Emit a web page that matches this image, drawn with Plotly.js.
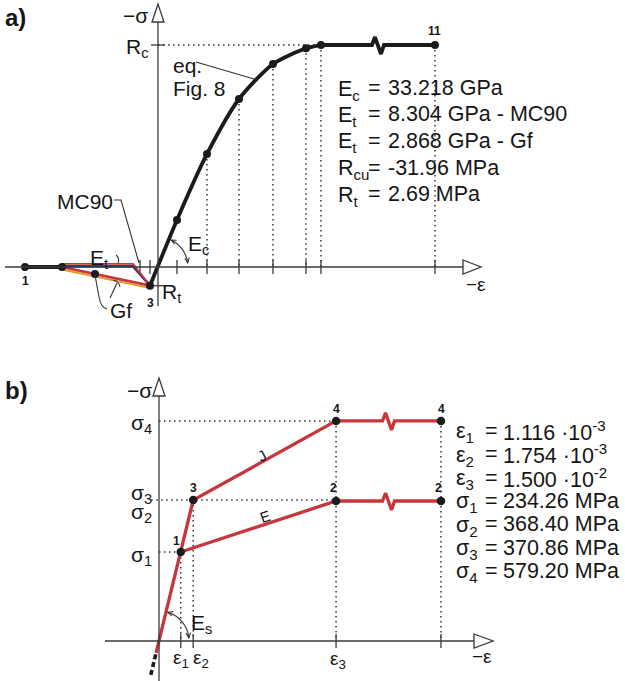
<!DOCTYPE html>
<html><head><meta charset="utf-8">
<script src="https://cdn.plot.ly/plotly-3.0.1.min.js"></script>
<style>html,body{margin:0;padding:0;background:#fff}#chart{width:625px;height:681px}</style>
</head><body><div id="chart"></div>
<script>
// ================= DATA =================
// Panel a) concrete: x = -strain (per mille, schematic), y = -stress (MPa)
const tensX      = [-1.773, -1.28];              // points 1, 2 (on the axis)
const tensY      = [0, 0];
const mc90X      = [-1.28, -0.333, -0.107];      // MC90 softening branch
const mc90RedY   = [0.45, 0.45, -2.69];
const mc90BlueY  = [0.1, 0.1, -2.69];
const gfX        = [-1.28, -0.84, -0.107];       // Gf softening branch
const gfY        = [0, -1.0, -2.69];
const compX      = [-0.107, 0.253, 0.653, 1.08, 1.533, 1.973, 2.173]; // point 3 ... peak
const compY      = [-2.69, 6.77, 16.27, 24.19, 29.23, 31.5, 31.96];
const plateauX   = [2.173, 3.693];               // peak -> point 11
const plateauY   = [31.96, 31.96];
const ticksA     = [-0.24, -0.107, 0.253, 0.653, 1.08, 1.533, 1.973, 2.173, 3.693];
const Rc = 31.96, Rt = -2.69;
const listA_sym  = ['E<sub>c</sub>', 'E<sub>t</sub>', 'E<sub>t</sub>', 'R<sub>cu</sub>', 'R<sub>t</sub>'];
const listA_val  = ['33.218 GPa', '8.304 GPa - MC90', '2.868 GPa - Gf', '-31.96 MPa', '2.69 MPa'];

// Panel b) steel: x = -strain (per mille; eps3 and end drawn at shortened schematic positions), y = -stress (MPa)
const epsPos     = [1.116, 1.754, 9.08, 14.46];  // eps1, eps2, eps3 (schematic), end (schematic)
const sigma      = [234.26, 368.40, 370.86, 579.20];
const curveJX    = [-0.15, 0, 1.116, 1.754, 9.08, 14.46];
const curveJY    = [-31.5, 0, 234.26, 370.86, 579.20, 579.20];
const curveEX    = [1.116, 9.08, 14.46];
const curveEY    = [234.26, 368.40, 368.40];
const extX       = [-0.42, -0.15];               // dashed continuation below origin
const extY       = [-89, -31.5];
const listB_sym  = ['ε<sub>1</sub>', 'ε<sub>2</sub>', 'ε<sub>3</sub>', 'σ<sub>1</sub>', 'σ<sub>2</sub>', 'σ<sub>3</sub>', 'σ<sub>4</sub>'];
const listB_val  = ['1.116 ·10<sup>-3</sup>', '1.754 ·10<sup>-3</sup>', '1.500 ·10<sup>-2</sup>',
                    '234.26 MPa', '368.40 MPa', '370.86 MPa', '579.20 MPa'];

// ================= LAYOUT GEOMETRY =================
const W = 625, H = 681;
const PA = {x0:158, y0:267, sx:75,   sy:6.946, top:0,   bot:330};
const PB = {x0:159, y0:641, sx:19.5, sy:0.38,  top:340, bot:681};
const BLK = '#1b1b1b', RED = '#c7353d', BLUE = '#2b3a8c', ORG = '#e39a2a', AX = '#3a3a3a';
const FONT = 'Liberation Sans, Arial, sans-serif';

function withBreak(xs, ys, P) {
  // insert a zig-zag "break" symbol in the middle of the last segment
  const n = xs.length, x1 = xs[n-2], x2 = xs[n-1], y = ys[n-1];
  const bx = (x1 + x2) / 2;
  const off = [[-6,0],[-3,8],[3,-9],[6,0]];
  const X = xs.slice(0, n-1), Y = ys.slice(0, n-1);
  off.forEach(o => { X.push(bx + o[0]/P.sx); Y.push(y + o[1]/P.sy); });
  X.push(x2); Y.push(y);
  return [X, Y];
}
function dots(segs) { const x=[], y=[]; segs.forEach(s=>{x.push(s[0],s[2],null); y.push(s[1],s[3],null);}); return {x,y}; }

const traces = [];
const lineT = (x,y,color,width,ax,extra={}) => Object.assign({type:'scatter',mode:'lines',x,y,xaxis:ax[0],yaxis:ax[1],
  line:Object.assign({color,width},extra.line||{}),hoverinfo:'skip'}, extra.top||{});
const A = ['x','y'], B = ['x2','y2'];

// ---- panel a dotted guides
const dA = dots([
  ...compX.slice(2).map((x,i)=>[x, compY[i+2], x, 0]),
  [plateauX[1], plateauY[1], plateauX[1], 0],
  [0, Rc, compX[compX.length-1], Rc]
]);
traces.push(lineT(dA.x, dA.y, '#333', 1.5, A, {line:{dash:'1.5px,3.5px'}}));
traces.push({type:'scatter',mode:'markers',x:ticksA,y:ticksA.map(()=>0),xaxis:'x',yaxis:'y',hoverinfo:'skip',
  marker:{symbol:'line-ns',size:10,line:{color:AX,width:1.3}}});
traces.push({type:'scatter',mode:'markers',x:[0,0],y:[Rc,Rt],xaxis:'x',yaxis:'y',hoverinfo:'skip',
  marker:{symbol:'line-ew',size:10,line:{color:AX,width:1.3}}});
// curves panel a
traces.push(lineT(gfX, gfY.map(v=>v-0.35), ORG, 2, A));
traces.push(lineT(gfX, gfY, RED, 2.8, A));
traces.push(lineT(mc90X, mc90BlueY, BLUE, 2.5, A));
traces.push(lineT(mc90X, mc90RedY, RED, 1.9, A));
traces.push(lineT(tensX, tensY, BLK, 4.2, A));
traces.push(lineT(compX, compY, BLK, 3.8, A, {line:{shape:'spline',smoothing:0.7}}));
const [pax, pay] = withBreak(plateauX, plateauY, PA);
traces.push(lineT(pax, pay, BLK, 3.8, A));
traces.push({type:'scatter',mode:'markers',xaxis:'x',yaxis:'y',hoverinfo:'skip',
  x:[...tensX, gfX[1], ...compX, plateauX[1]], y:[...tensY, gfY[1], ...compY, plateauY[1]],
  marker:{color:BLK,size:8}});

// ---- panel b dotted guides
const dB = dots([
  [epsPos[0], sigma[0], epsPos[0], 0],
  [epsPos[1], sigma[2], epsPos[1], 0],
  [epsPos[2], sigma[3], epsPos[2], 0],
  [epsPos[3], sigma[3], epsPos[3], 0],
  [0, sigma[0], epsPos[0], sigma[0]],
  [-0.4, sigma[2], epsPos[2], sigma[2]],
  [0, sigma[3], epsPos[2], sigma[3]]
]);
traces.push(lineT(dB.x, dB.y, '#333', 1.5, B, {line:{dash:'1.5px,3.5px'}}));
traces.push({type:'scatter',mode:'markers',x:epsPos,y:epsPos.map(()=>0),xaxis:'x2',yaxis:'y2',hoverinfo:'skip',
  marker:{symbol:'line-ns',size:10,line:{color:AX,width:1.3}}});
traces.push(lineT(extX, extY, BLK, 3.6, B, {line:{dash:'5px,3px'}}));
const [jx, jy] = withBreak(curveJX, curveJY, PB);
const [ex, ey] = withBreak(curveEX, curveEY, PB);
traces.push(lineT(ex, ey, RED, 3.3, B));
traces.push(lineT(jx, jy, RED, 3.3, B));
traces.push({type:'scatter',mode:'markers',xaxis:'x2',yaxis:'y2',hoverinfo:'skip',
  x:[curveJX[2], curveJX[3], curveJX[4], curveJX[5], curveEX[1], curveEX[2]],
  y:[curveJY[2], curveJY[3], curveJY[4], curveJY[5], curveEY[1], curveEY[2]],
  marker:{color:BLK,size:8.5}});

// ================= DECORATION (pixel helpers) =================
const px = (x,y) => `${(x/W).toFixed(5)},${(1-y/H).toFixed(5)}`;
const path = (pts, close) => 'M' + pts.map(p=>px(p[0],p[1])).join(' L') + (close?' Z':'');
const shapes = [];
const S = (d, o={}) => shapes.push({type:'path', xref:'paper', yref:'paper', path:d,
  line:{color:o.color||AX, width:o.width||1.3}, fillcolor:o.fill||'rgba(0,0,0,0)', layer:'above'});
// axes
S(path([[5,267],[463,267]]));
S(path([[463,260],[481,267],[463,274]], true), {fill:'#fff'});
S(path([[158,306],[158,22]]));
S(path([[152,22],[158,4],[164,22]], true), {fill:'#fff'});
S(path([[105,641],[474,641]]));
S(path([[474,634],[493,641],[474,648]], true), {fill:'#fff'});
S(path([[159,681],[159,396]]));
S(path([[153,396],[159,378],[165,396]], true), {fill:'#fff'});
// arcs with small arrowheads
function arc(cx, cy, r, a1, a2) {
  const pts = []; const n = 24;
  for (let i=0;i<=n;i++){ const a=(a1+(a2-a1)*i/n)*Math.PI/180; pts.push([cx+r*Math.cos(a), cy-r*Math.sin(a)]); }
  S(path(pts), {color:'#333', width:1.1});
  [[a2, 1],[a1,-1]].forEach(([ad, dir])=>{
    const a = ad*Math.PI/180, tx = cx+r*Math.cos(a), ty = cy-r*Math.sin(a);
    const dx = Math.sin(a)*dir, dy = Math.cos(a)*dir;
    const L = 5, k = 0.45;
    S(path([[tx - L*(dx - k*dy), ty - L*(dy + k*dx)],[tx,ty],[tx - L*(dx + k*dy), ty - L*(dy - k*dx)]]), {color:'#333', width:1.1});
  });
}
arc(158, 267, 30, 64, 8);
arc(159, 641, 30, 73, 6);
// leader lines
S(path([[196,62],[254,79]]), {color:'#333', width:1.1});
S(path([[114,200],[121,200],[139,263]]), {color:'#333', width:1.1});
S(`M${px(95,275)} L${px(99,297)} Q${px(101,308)} ${px(107,309)}`, {color:'#333', width:1.1});
S(path([[110,298],[117,283]]), {color:'#333', width:1.1});
S(`M${px(113,280)} Q${px(119,281)} ${px(120,287)}`, {color:'#333', width:1.1});
S(`M${px(116,255)} Q${px(120,258)} ${px(118,263)}`, {color:'#333', width:1.1});

// ================= TEXT =================
const ann = [];
function T(text, x, y, o={}) {
  ann.push({text, x:x/W, y:1-y/H, xref:'paper', yref:'paper', showarrow:false,
    xanchor:o.xa||'left', yanchor:o.ya||'middle', textangle:o.angle||0, borderpad:0,
    font:{family:FONT, size:o.size||21, color:o.color||'#161616'}});
}
// panel a
T('<b>a)</b>', 4, 18, {size:24});
T('−σ', 135, 16, {xa:'center', size:21});
T('R<sub>c</sub>', 125, 48, {size:21});
T('eq.', 172, 66, {size:21});
T('Fig. 8', 172, 88, {size:21});
T('MC90', 56, 201, {size:21});
T('E<sub>t</sub>', 89, 259, {size:21});
T('Gf', 109, 310, {size:21});
T('E<sub>c</sub>', 187, 245, {size:21});
T('R<sub>t</sub>', 161, 293, {size:21});
T('<b>1</b>', 25, 281, {xa:'center', size:12});
T('<b>3</b>', 150, 303, {xa:'center', size:12});
T('<b>11</b>', 435, 31, {xa:'center', size:12});
T('−ε', 476, 284, {xa:'center', size:19});
listA_sym.forEach((s,i)=>{ const y = 88 + i*26.5;
  T(s, 337, y+2, {size:21.5}); T('=', 367, y, {size:21.5}); T(listA_val[i], 387, y, {size:21.5}); });
// panel b
T('<b>b)</b>', 4, 390, {size:24});
T('−σ', 139, 390, {xa:'center', size:21});
T('σ<sub>4</sub>', 153, 424, {xa:'right', size:21});
T('σ<sub>3</sub>', 153, 494, {xa:'right', size:21});
T('σ<sub>2</sub>', 153, 513, {xa:'right', size:21});
T('σ<sub>1</sub>', 153, 556, {xa:'right', size:21});
T('<b>1</b>', 176, 541, {xa:'center', size:12});
T('<b>3</b>', 193, 488, {xa:'center', size:12});
T('<b>4</b>', 336, 409, {xa:'center', size:12});
T('<b>4</b>', 441, 409, {xa:'center', size:12});
T('<b>2</b>', 333, 488, {xa:'center', size:12});
T('<b>2</b>', 438, 488, {xa:'center', size:12});
T('J', 262, 455, {xa:'center', size:15, angle:-28});
T('E', 265, 516, {xa:'center', size:15, angle:-19});
T('E<sub>s</sub>', 190, 624, {size:21});
T('ε<sub>1</sub>', 181, 659, {xa:'center', size:19});
T('ε<sub>2</sub>', 201, 659, {xa:'center', size:19});
T('ε<sub>3</sub>', 338, 660, {xa:'center', size:19});
T('−ε', 482, 656, {xa:'center', size:19});
listB_sym.forEach((s,i)=>{ const y = 431 + i*23.3;
  T(s, 455, y+2, {size:21.5}); T('=', 484, y, {size:21.5}); T(listB_val[i], 502, y, {size:21.5}); });

const layout = {
  width:W, height:H, margin:{l:0,r:0,t:0,b:0}, showlegend:false,
  paper_bgcolor:'#ffffff', plot_bgcolor:'rgba(0,0,0,0)',
  xaxis:{domain:[0,1], range:[-PA.x0/PA.sx, (W-PA.x0)/PA.sx], visible:false, anchor:'y'},
  yaxis:{domain:[1-PA.bot/H, 1-PA.top/H], range:[(PA.y0-PA.bot)/PA.sy, (PA.y0-PA.top)/PA.sy], visible:false, anchor:'x'},
  xaxis2:{domain:[0,1], range:[-PB.x0/PB.sx, (W-PB.x0)/PB.sx], visible:false, anchor:'y2'},
  yaxis2:{domain:[0, 1-PB.top/H], range:[(PB.y0-PB.bot)/PB.sy, (PB.y0-PB.top)/PB.sy], visible:false, anchor:'x2'},
  shapes, annotations:ann
};
Plotly.newPlot('chart', traces, layout, {staticPlot:true, displayModeBar:false});
</script></body></html>
